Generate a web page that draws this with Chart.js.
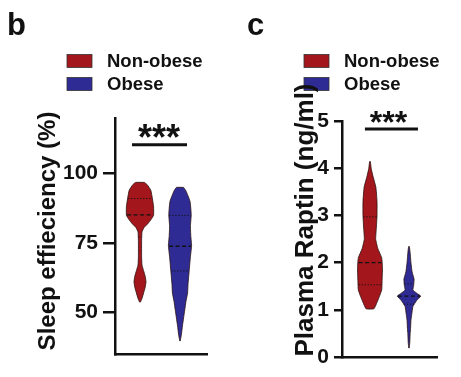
<!DOCTYPE html>
<html><head><meta charset="utf-8">
<script src="https://cdn.jsdelivr.net/npm/chart.js@4"></script>
<style>
body{margin:0;background:#fff;width:461px;height:377px;overflow:hidden;position:relative}
canvas{position:absolute;top:0}
#ca{left:0}#cb{left:230px}
</style></head><body>
<canvas id="ca" width="230" height="377"></canvas>
<canvas id="cb" width="231" height="377"></canvas>
<script>
const groups = ['Non-obese', 'Obese'];
const groupColors = ['#a3161b', '#2e2b94'];

// Panel b: Sleep efficiency (%) — violin outline: values and half-widths
const sleepTicks = [50, 75, 100];
const sleepNonObeseY = [96.8, 96, 94, 91, 88, 85, 83.5, 82, 80.5, 79, 76, 70, 67, 65, 63, 61, 59, 57, 55, 53.7];
const sleepNonObeseW = [0.11, 0.18, 0.27, 0.31, 0.34, 0.34, 0.28, 0.20, 0.10, 0.05, 0.04, 0.04, 0.05, 0.09, 0.13, 0.15, 0.13, 0.09, 0.05, 0.01];
const sleepObeseY = [95, 94, 92, 90, 87.5, 85, 81, 77.5, 74, 70, 65, 60, 57, 54, 51, 48, 45, 42, 39.7];
const sleepObeseW = [0.09, 0.14, 0.20, 0.25, 0.27, 0.28, 0.26, 0.27, 0.29, 0.26, 0.23, 0.20, 0.19, 0.15, 0.12, 0.09, 0.06, 0.035, 0.005];
const sleepMedian = [85.1, 73.8];
const sleepQ1 = [77.1, 64.9];
const sleepQ3 = [91.0, 84.9];
const sleepSig = 110.4;

// Panel c: Plasma Raptin (ng/ml)
const raptinTicks = [0, 1, 2, 3, 4, 5];
const raptinNonObeseY = [4.14, 4.0, 3.85, 3.6, 3.3, 3.0, 2.7, 2.5, 2.3, 2.1, 1.9, 1.6, 1.42, 1.28, 1.1, 1.02];
const raptinNonObeseW = [0.01, 0.03, 0.07, 0.15, 0.18, 0.18, 0.16, 0.145, 0.20, 0.30, 0.32, 0.31, 0.30, 0.24, 0.15, 0.10];
const raptinObeseY = [2.34, 2.2, 2.0, 1.8, 1.65, 1.52, 1.42, 1.35, 1.29, 1.2, 1.07, 0.9, 0.78, 0.6, 0.5, 0.3, 0.19];
const raptinObeseW = [0.01, 0.03, 0.05, 0.08, 0.13, 0.12, 0.10, 0.20, 0.30, 0.20, 0.10, 0.07, 0.05, 0.04, 0.03, 0.02, 0.005];
const raptinMedian = [2.0, 1.29];
const raptinQ1 = [1.53, 1.12];
const raptinQ3 = [2.97, 1.55];
const raptinSig = 4.83;

const FONT = '"Liberation Sans", Arial, sans-serif';

function halfWidthAt(ys, ws, v) {
  for (let i = 0; i < ys.length - 1; i++) {
    const a = ys[i], b = ys[i + 1];
    if ((v <= a && v >= b)) {
      const t = (a - v) / (a - b);
      return ws[i] + t * (ws[i + 1] - ws[i]);
    }
  }
  return 0;
}

function violinDataset(label, color, center, ys, ws) {
  const pts = [];
  for (let i = 0; i < ys.length; i++) pts.push({x: center + ws[i], y: ys[i]});
  for (let i = ys.length - 1; i >= 0; i--) pts.push({x: center - ws[i], y: ys[i]});
  pts.push({x: center + ws[0], y: ys[0]});
  return {label, data: pts, showLine: true, fill: 'shape', backgroundColor: color,
    borderColor: '#2a1010', borderWidth: 0.8, pointRadius: 0, tension: 0.12, order: 2};
}
function lineDataset(center, ys, ws, v, dash, width) {
  const w = halfWidthAt(ys, ws, v) * 0.95;
  return {label: '', data: [{x: center - w, y: v}, {x: center + w, y: v}], showLine: true,
    borderColor: '#111', borderWidth: width, borderDash: dash, pointRadius: 0, fill: false, order: 1};
}

const textPlugin = {
  id: 'texts',
  afterDraw(chart) {
    const o = chart.options.plugins.texts;
    const ctx = chart.ctx;
    ctx.save();
    ctx.fillStyle = '#111';
    // panel letter
    ctx.font = 'bold 31px ' + FONT;
    ctx.textAlign = 'left'; ctx.textBaseline = 'alphabetic';
    ctx.fillText(o.letter, o.letterX, o.letterY);
    // legend
    groups.forEach((g, i) => {
      const y = o.legY + i * o.legGap;
      ctx.fillStyle = groupColors[i];
      ctx.fillRect(o.legX, y - 6.5, 25, 13);
      ctx.strokeStyle = '#333'; ctx.lineWidth = 0.8;
      ctx.strokeRect(o.legX, y - 6.5, 25, 13);
      ctx.fillStyle = '#111';
      ctx.font = 'bold 18.5px ' + FONT;
      ctx.textBaseline = 'middle';
      ctx.fillText(g, o.legX + 40, y + 1);
    });
    // axis title
    ctx.save();
    ctx.translate(o.titleX, o.titleY);
    ctx.rotate(-Math.PI / 2);
    ctx.font = 'bold ' + o.titleSize + 'px ' + FONT;
    ctx.textAlign = 'center'; ctx.textBaseline = 'middle';
    ctx.fillText(o.title, 0, 0);
    ctx.restore();
    // significance stars
    const xs = chart.scales.x, ysc = chart.scales.y;
    const px = xs.getPixelForValue(1.5);
    const py = ysc.getPixelForValue(o.sig);
    ctx.font = 'bold ' + o.starSize + 'px ' + FONT;
    ctx.textAlign = 'center'; ctx.textBaseline = 'alphabetic';
    ctx.fillText('***', px + o.starDx, py + o.starDy);
    ctx.restore();
  }
};

function makeChart(id, cfg) {
  const ds = [
    violinDataset(groups[0], groupColors[0], 1, cfg.y0, cfg.w0),
    violinDataset(groups[1], groupColors[1], 2, cfg.y1, cfg.w1),
  ];
  [0, 1].forEach(i => {
    const c = i + 1, ys = i ? cfg.y1 : cfg.y0, ws = i ? cfg.w1 : cfg.w0;
    ds.push(lineDataset(c, ys, ws, cfg.med[i], [4, 2.5], 1.3));
    ds.push(lineDataset(c, ys, ws, cfg.q1[i], [1.2, 1.8], 1));
    ds.push(lineDataset(c, ys, ws, cfg.q3[i], [1.2, 1.8], 1));
  });
  ds.push({label: '', data: [{x: cfg.sigX[0], y: cfg.sig}, {x: cfg.sigX[1], y: cfg.sig}], showLine: true,
    borderColor: '#111', borderWidth: 3, pointRadius: 0, fill: false, clip: false});
  return new Chart(document.getElementById(id), {
    type: 'scatter',
    data: {datasets: ds},
    plugins: [textPlugin],
    options: {
      responsive: false, animation: false,
      layout: {padding: cfg.pad},
      plugins: {legend: {display: false}, tooltip: {enabled: false}, texts: cfg.texts},
      scales: {
        x: {type: 'linear', min: cfg.xmin, max: cfg.xmax,
          ticks: {display: false}, grid: {display: false},
          border: {display: true, color: '#111', width: 2.5},
          afterFit: s => { s.height = 0; }},
        y: {type: 'linear', min: cfg.ymin, max: cfg.ymax,
          afterBuildTicks: s => { s.ticks = cfg.ticks.map(v => ({value: v})); },
          ticks: {color: '#111', padding: cfg.tickPad, font: {family: FONT, size: 21, weight: 'bold'}},
          grid: {display: true, drawOnChartArea: false, drawTicks: true, tickLength: cfg.tickLen, color: '#111', lineWidth: 2.5},
          border: {display: true, color: '#111', width: 2.5},
          afterFit: s => { s.width = cfg.yw; }}
      }
    }
  });
}

makeChart('ca', {
  y0: sleepNonObeseY, w0: sleepNonObeseW, y1: sleepObeseY, w1: sleepObeseW,
  med: sleepMedian, q1: sleepQ1, q3: sleepQ3, sig: sleepSig, sigX: [0.8, 2.175],
  ticks: sleepTicks, ymin: 35, ymax: 120, xmin: 0.375, xmax: 2.675,
  pad: {left: 0, right: 23, top: 118, bottom: 23}, yw: 115, tickLen: 12, tickPad: 5,
  texts: {letter: 'b', letterX: 7, letterY: 35, legX: 67, legY: 61, legGap: 23,
    title: 'Sleep effieciency (%)', titleX: 48, titleY: 231, titleSize: 24,
    sig: sleepSig, starSize: 36, starDx: -1, starDy: 5}
});
makeChart('cb', {
  y0: raptinNonObeseY, w0: raptinNonObeseW, y1: raptinObeseY, w1: raptinObeseW,
  med: raptinMedian, q1: raptinQ1, q3: raptinQ3, sig: raptinSig, sigX: [0.87, 2.23],
  ticks: raptinTicks, ymin: 0, ymax: 5, xmin: 0.282, xmax: 2.718,
  pad: {left: 0, right: 24, top: 121, bottom: 20}, yw: 112, tickLen: 8, tickPad: 5,
  texts: {letter: 'c', letterX: 17, letterY: 35, legX: 74, legY: 61, legGap: 23,
    title: 'Plasma Raptin (ng/ml)', titleX: 76, titleY: 220, titleSize: 26,
    sig: raptinSig, starSize: 32, starDx: -1, starDy: 4}
});
</script>
</body></html>
